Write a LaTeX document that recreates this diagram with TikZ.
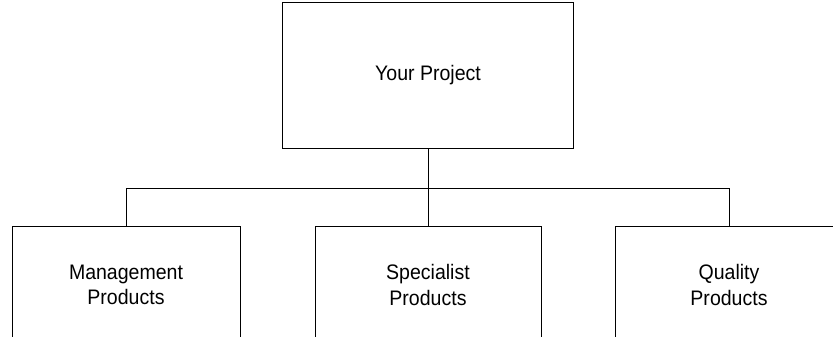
\documentclass[tikz,border=0pt]{standalone}
\usepackage{fontspec}
\setmainfont[FakeStretch=0.93]{Liberation Sans}
\begin{document}
\begin{tikzpicture}[x=1pt,y=-1pt,
  box/.style={draw, line width=0.9pt, inner sep=0pt, align=center, font=\fontsize{21}{25.5}\selectfont},
  conn/.style={draw, line width=0.9pt}]
\useasboundingbox (0,0) rectangle (833,337);
\clip (0,0) rectangle (833,337);
\node[box, minimum width=291pt, minimum height=146pt] (top) at (428,75) {Your Project};
\node[box, minimum width=228pt, minimum height=118pt] (mgmt) at (126,285) {Management\\Products};
\node[box, minimum width=226pt, minimum height=118pt] (spec) at (428,285) {Specialist\\Products};
\node[box, minimum width=228pt, minimum height=118pt] (qual) at (729,285) {Quality\\Products};
\coordinate (bus) at (428,188);
\draw[conn] (top.south) -- (bus);
\draw[conn] (mgmt.north) |- (bus);
\draw[conn] (qual.north) |- (bus);
\draw[conn] (spec.north) -- (bus);
\end{tikzpicture}
\end{document}
